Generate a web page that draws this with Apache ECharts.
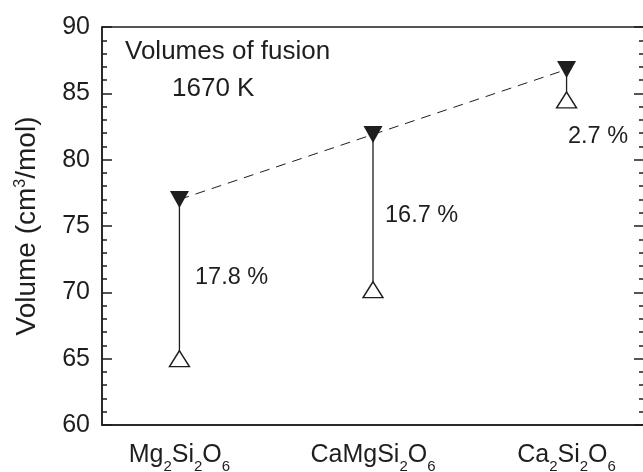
<!DOCTYPE html>
<html>
<head>
<meta charset="utf-8">
<script src="https://cdn.jsdelivr.net/npm/echarts@6/dist/echarts.min.js"></script>
<style>
  html, body { margin: 0; padding: 0; background: #fff; }
  #chart { width: 643px; height: 472px; }
</style>
</head>
<body>
<div id="chart"></div>
<script>
// Pyroxene compositions along the join
const compositions = ['Mg2Si2O6', 'CaMgSi2O6', 'Ca2Si2O6'];
// Molar volume of the liquid (filled, downward triangles), cm3/mol
const liquidVolume = [77.0, 81.9, 86.8];
// Molar volume of the crystal (open, upward triangles), cm3/mol
const solidVolume = [65.0, 70.2, 84.5];
// Relative volume change on melting
const fusionPercent = ['17.8 %', '16.7 %', '2.7 %'];
// Left axis tick values
const yTicks = [60, 65, 70, 75, 80, 85, 90];

const INK = '#1e1e1e';
const FONT = '"Liberation Sans", Arial, Helvetica, sans-serif';

// Split a formula into rich-text runs: letters normal, digits subscripted
function formula(name) {
  return name.match(/[A-Za-z]+|\d+/g)
    .map(tok => /\d/.test(tok) ? '{sub|' + tok + '}' : '{main|' + tok + '}')
    .join('');
}

const chart = echarts.init(document.getElementById('chart'));

const xIdx = compositions.map((_, i) => i);

const tickStyle = { color: INK, width: 1.5 };

chart.setOption({
  animation: false,
  backgroundColor: '#fff',
  grid: {
    left: 102, right: -1, top: 27, bottom: 47,
    outerBoundsMode: 'none',
    containLabel: false,
    show: true, borderColor: INK, borderWidth: 1.5, backgroundColor: 'transparent'
  },
  xAxis: {
    type: 'value', min: -0.4, max: 2.4,
    splitLine: { show: false },
    axisLine: { show: true, onZero: false, lineStyle: tickStyle },
    axisTick: { show: false },
    axisLabel: {
      customValues: xIdx,
      hideOverlap: false,
      margin: 16,
      formatter: v => formula(compositions[Math.round(v)]),
      rich: {
        main: { fontFamily: FONT, fontSize: 25, color: INK, lineHeight: 28 },
        sub: { fontFamily: FONT, fontSize: 15, color: INK, lineHeight: 15, verticalAlign: 'bottom', padding: [0, 0, -5, 0] }
      }
    }
  },
  yAxis: [
    {
      type: 'value', min: 60, max: 90, interval: 5,
      position: 'left',
      name: 'Volume (cm{sup|3}/mol)',
      nameLocation: 'middle', nameGap: 61, nameRotate: 90,
      nameTextStyle: {
        fontFamily: FONT, fontSize: 28, color: INK,
        rich: { sup: { fontFamily: FONT, fontSize: 16, color: INK, verticalAlign: 'top', padding: [0, 0, 10, 0] } }
      },
      splitLine: { show: false },
      axisLine: { show: true, onZero: false, lineStyle: tickStyle },
      axisTick: { show: true, inside: true, length: 10, lineStyle: tickStyle },
      minorTick: { show: true, splitNumber: 5, length: 5, lineStyle: tickStyle },
      axisLabel: {
        customValues: yTicks,
        fontFamily: FONT, fontSize: 25, color: INK, margin: 12
      }
    },
    {
      type: 'value', min: 60, max: 90, interval: 5,
      position: 'right',
      splitLine: { show: false },
      axisLine: { show: true, onZero: false, lineStyle: tickStyle },
      axisTick: { show: true, inside: true, length: 10, lineStyle: tickStyle },
      minorTick: { show: true, splitNumber: 5, length: 5, lineStyle: tickStyle },
      axisLabel: { show: false }
    }
  ],
  series: [
    {
      // dashed trend through the liquid volumes
      type: 'line',
      data: xIdx.map(i => [i, liquidVolume[i]]),
      symbol: 'none',
      lineStyle: { color: INK, width: 1, type: [10, 7] },
      z: 1
    },
    {
      // solid-to-liquid connectors
      type: 'custom',
      data: xIdx.map(i => [i, solidVolume[i], liquidVolume[i]]),
      renderItem: (params, api) => {
        const a = api.coord([api.value(0), api.value(1)]);
        const b = api.coord([api.value(0), api.value(2)]);
        return {
          type: 'line',
          shape: { x1: a[0], y1: a[1], x2: b[0], y2: b[1] },
          style: { stroke: INK, lineWidth: 1.3 }
        };
      },
      z: 2
    },
    {
      type: 'scatter',
      data: xIdx.map(i => [i, solidVolume[i]]),
      symbol: 'triangle',
      symbolSize: [20, 16],
      itemStyle: { color: '#fff', borderColor: INK, borderWidth: 1.4, opacity: 1 },
      z: 3
    },
    {
      type: 'scatter',
      data: xIdx.map(i => [i, liquidVolume[i]]),
      symbol: 'triangle',
      symbolRotate: 180,
      symbolSize: [19, 17],
      itemStyle: { color: INK, opacity: 1 },
      z: 4
    }
  ],
  graphic: [
    { type: 'text', left: 125, top: 39, style: { text: 'Volumes of fusion', font: '26px ' + FONT, fill: INK } },
    { type: 'text', left: 172, top: 76, style: { text: '1670 K', font: '26px ' + FONT, fill: INK } },
    { type: 'text', left: 195, top: 266, style: { text: fusionPercent[0], font: '23.5px ' + FONT, fill: INK } },
    { type: 'text', left: 385, top: 204, style: { text: fusionPercent[1], font: '23.5px ' + FONT, fill: INK } },
    { type: 'text', left: 568, top: 125, style: { text: fusionPercent[2], font: '23.5px ' + FONT, fill: INK } }
  ]
});
</script>
</body>
</html>
